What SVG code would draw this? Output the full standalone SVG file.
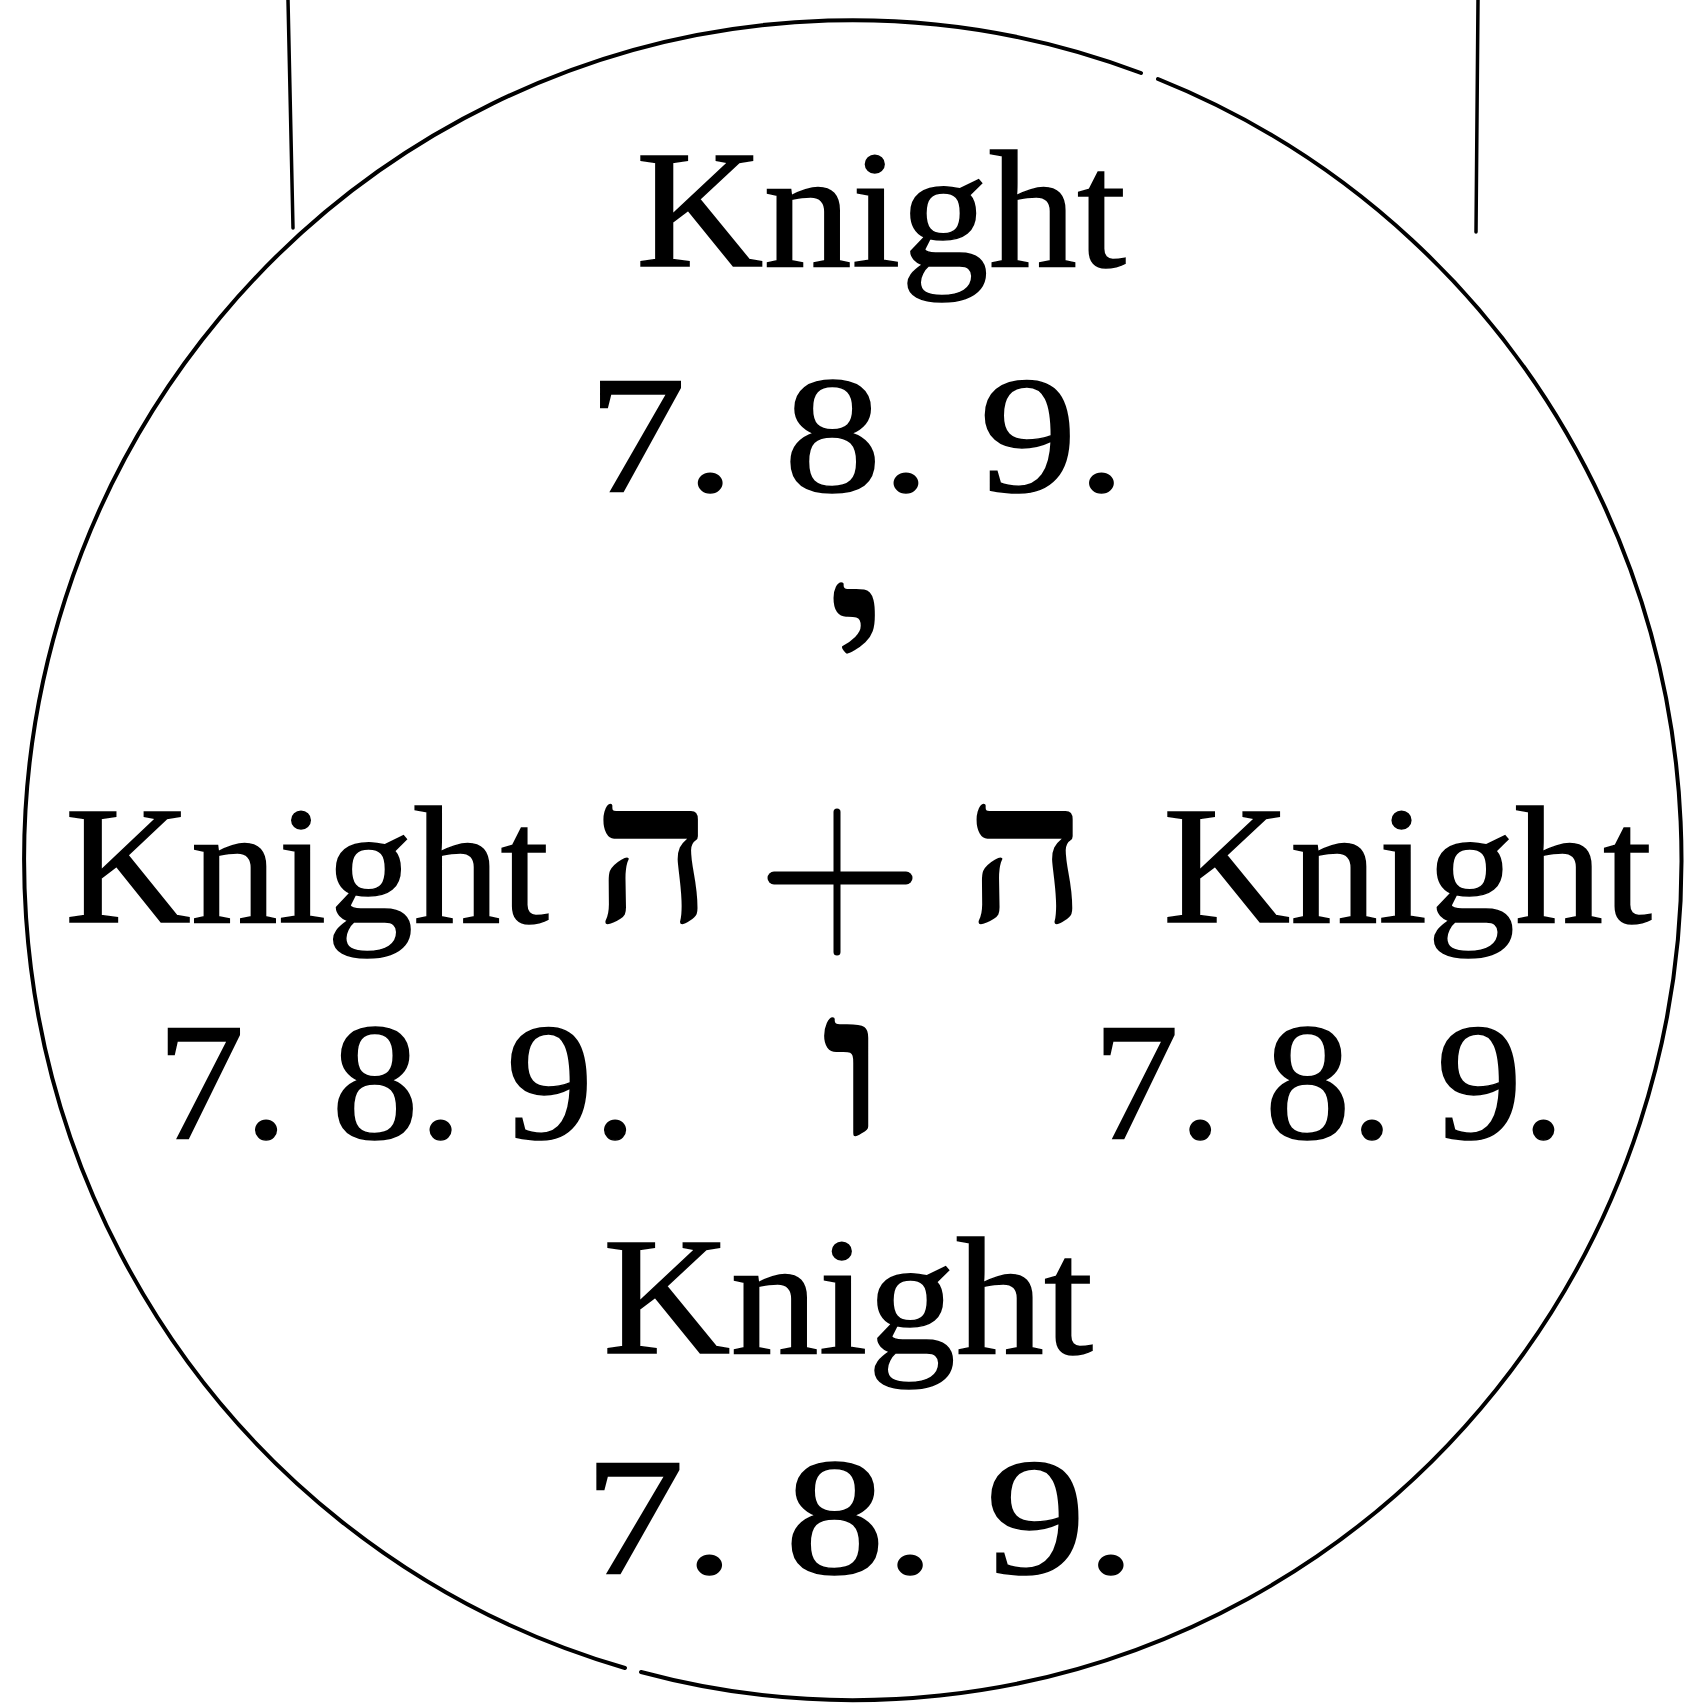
<svg xmlns="http://www.w3.org/2000/svg" width="1696" height="1705" viewBox="0 0 1696 1705">
<style>
.t{font-family:"Liberation Serif","DejaVu Serif",serif;font-size:168px;fill:#000;stroke:#000;stroke-width:1.5}
.h{font-family:"Liberation Serif","DejaVu Sans",serif;font-size:200px;font-weight:bold;fill:#000}
.ln{stroke:#000;fill:none;stroke-linecap:round}
</style>
<rect width="1696" height="1705" fill="#fff"/>
<g id="frame">
<path class="ln" stroke-width="4" d="M1158,79 A828,840 0 0 1 641,1672"/>
<path class="ln" stroke-width="4" d="M625,1668 A828,840 0 1 1 1141,73"/>
<path class="ln" stroke-width="3.5" d="M288,0 L293,228"/>
<path class="ln" stroke-width="3.5" d="M1478,0 L1476,232"/>
</g>
<g id="top">
<text class="t" x="636" y="266" textLength="490" lengthAdjust="spacingAndGlyphs">Knight</text>
<text class="t" x="588" y="491" textLength="538" lengthAdjust="spacingAndGlyphs">7. 8. 9.</text>
<text class="h" x="828" y="700" textLength="58" lengthAdjust="spacingAndGlyphs">י</text>
</g>
<g id="left">
<text class="t" x="65" y="922" textLength="484" lengthAdjust="spacingAndGlyphs">Knight</text>
<text class="t" x="157" y="1138" textLength="480" lengthAdjust="spacingAndGlyphs">7. 8. 9.</text>
<text class="h" x="593" y="922" textLength="120" lengthAdjust="spacingAndGlyphs">ה</text>
</g>
<g id="center">
<path class="ln" stroke-width="7" d="M837,812 L837,952"/>
<path class="ln" stroke-width="13" d="M774,878 L906,878"/>
<text class="h" x="821" y="1135" textLength="66" lengthAdjust="spacingAndGlyphs">ו</text>
</g>
<g id="right">
<text class="h" x="966" y="922" textLength="122" lengthAdjust="spacingAndGlyphs">ה</text>
<text class="t" x="1163" y="922" textLength="489" lengthAdjust="spacingAndGlyphs">Knight</text>
<text class="t" x="1093" y="1138" textLength="472" lengthAdjust="spacingAndGlyphs">7. 8. 9.</text>
</g>
<g id="bottom">
<text class="t" x="603" y="1353" textLength="490" lengthAdjust="spacingAndGlyphs">Knight</text>
<text class="t" x="584" y="1573" textLength="552" lengthAdjust="spacingAndGlyphs">7. 8. 9.</text>
</g>
</svg>
